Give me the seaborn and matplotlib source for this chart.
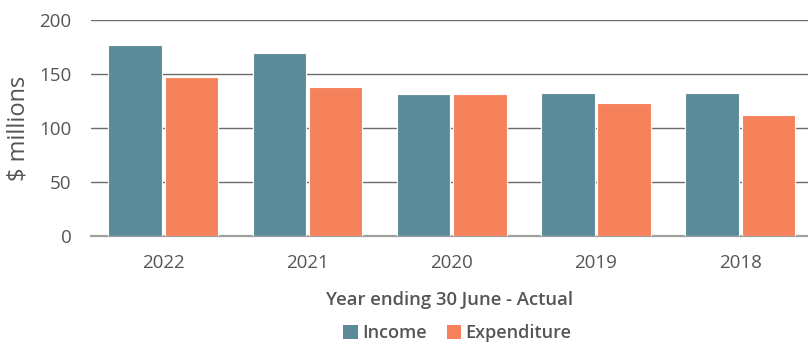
import pandas as pd
import seaborn as sns
import matplotlib.pyplot as plt
from matplotlib.patches import Patch

years = ["2022", "2021", "2020", "2019", "2018"]
income = [177, 170, 131.5, 133, 133]
expenditure = [147, 138, 132, 123.5, 112.5]
series = ["Income", "Expenditure"]
colors = ["#5B8A9A", "#F5825A"]

df = pd.DataFrame({
    "year": years * 2,
    "value": income + expenditure,
    "series": ["Income"] * len(years) + ["Expenditure"] * len(years),
})

sns.set_theme(style="white")
plt.rcParams["font.family"] = ["Open Sans", "DejaVu Sans"]

fig = plt.figure(figsize=(8.08, 3.42), dpi=100)
ax = fig.add_axes([0.1126, 0.31, 0.8874, 0.6306])

sns.barplot(data=df, x="year", y="value", hue="series", order=years,
            hue_order=series, palette=colors, width=0.78, gap=0.05,
            edgecolor="white", linewidth=0.8, saturation=1, ax=ax,
            legend=False, zorder=3)

ax.set_ylim(0, 200)
ax.set_xlim(-0.5, 4.47)
ax.set_yticks([0, 50, 100, 150, 200])
ax.yaxis.grid(True, color="#6b6b6b", linewidth=1.0, zorder=0)
ax.set_axisbelow(True)
for s in ["top", "right", "left"]:
    ax.spines[s].set_visible(False)
ax.spines["bottom"].set_color("#a0a0a0")
ax.spines["bottom"].set_linewidth(1.6)
ax.tick_params(axis="both", length=0, labelsize=13.5, colors="#555555")
ax.tick_params(axis="x", pad=13)
ax.tick_params(axis="y", pad=14)

ax.set_ylabel("$ millions", fontsize=17, color="#555555", labelpad=6)
ax.set_xlabel("Year ending 30 June - Actual", fontsize=13.3, fontweight="semibold",
              color="#555555", labelpad=14)

handles = [Patch(facecolor=c, edgecolor="none", label=l) for c, l in zip(colors, series)]
fig.legend(handles=handles, loc="center", bbox_to_anchor=(0.566, 0.025), ncol=2,
           frameon=False, handlelength=0.8, handleheight=0.8, handletextpad=0.25,
           columnspacing=1.1, prop={"size": 13, "weight": "semibold"},
           labelcolor="#555555", borderpad=0.1)

fig.savefig("out.png", dpi=100)
